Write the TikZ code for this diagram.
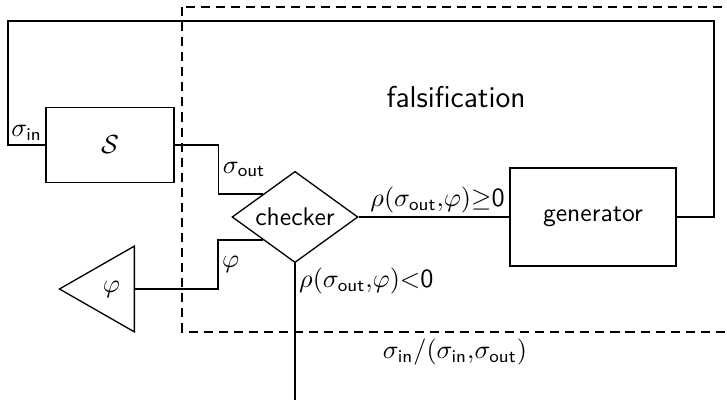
\documentclass[tikz,border=0pt]{standalone}
\usepackage{amsmath}
\usepackage{amssymb}
\usetikzlibrary{shapes.geometric,positioning}

\begin{document}
\begin{tikzpicture}[x=0.0147cm,y=-0.0147cm,font=\sffamily\fontsize{10.7}{13}\selectfont,line width=0.55pt,
  blk/.style={draw,minimum width=1.88cm,minimum height=1.1cm,inner sep=0pt},
  chk/.style={draw,diamond,aspect=1.4,inner sep=0pt,minimum width=1.85cm,minimum height=1.34cm},
  spec/.style={draw,isosceles triangle,isosceles triangle stretches,shape border rotate=180,inner sep=0pt,minimum width=1.26cm,minimum height=1.1cm},
  lbl/.style={inner sep=1.5pt}]
    \useasboundingbox (0,0) rectangle (727,400);
    \clip (0,0) rectangle (727,400);
    % Falsification frame
    \draw[dash pattern=on 3.8pt off 2.5pt] (182,7) rectangle (760,332);
    \node[font=\sffamily\fontsize{12.6}{15}\selectfont] (fals) at (456,97) {falsification};
    % Nodes
    \node[blk] (sys) at (110,145) {$\mathcal{S}$};
    \node[chk] (chk) at (295,217) {checker};
    \node[blk,minimum width=2.44cm,minimum height=1.44cm] (gen) at (593,217) {generator};
    \node[spec,anchor=lower side] (phi) at (135,289) {$\varphi$};
    \coordinate (fbR) at (714,21);
    \coordinate (fbL) at (8,21);
    \coordinate (outp) at (295,410);
    % Connectors
    \draw (sys.east) -- ++(44,0) |- node[pos=0.25,right,lbl]{$\sigma_{\textsf{out}}$} (chk.north west);
    \draw (phi.lower side) -- ++(83,0) |- node[pos=0.25,right,lbl]{$\varphi$} (chk.south west);
    \draw (chk.east) -- node[above,lbl,xshift=1.5pt]{$\rho(\sigma_{\textsf{out}}{,}\varphi){\geq}\mathsf{0}$} (gen.west);
    \draw (gen.east) -| (fbR) -- (fbL) |- node[pos=0.75,above,lbl]{$\sigma_{\textsf{in}}$} (sys.west);
    \draw (chk.south) -- (outp);
    % Results
    \node[below right,lbl] (fail) at (chk.south) {$\rho(\sigma_{\textsf{out}}{,}\varphi){<}\mathsf{0}$};
    \node (res) at (455,352) {$\sigma_{\textsf{in}}/(\sigma_{\textsf{in}}{,}\sigma_{\textsf{out}})$};
\end{tikzpicture}
\end{document}
